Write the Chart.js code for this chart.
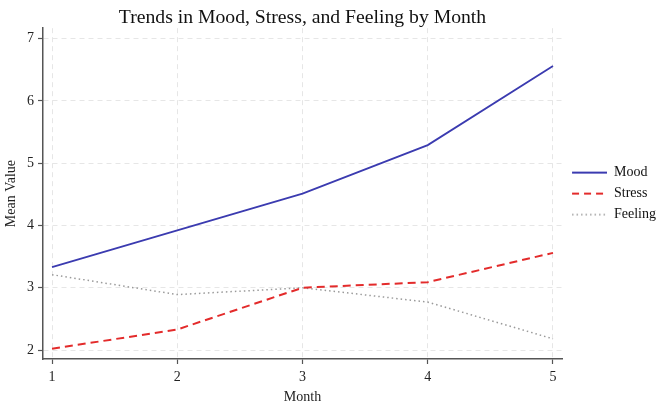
<!DOCTYPE html>
<html>
<head>
<meta charset="utf-8">
<script src="https://cdn.jsdelivr.net/npm/chart.js@4/dist/chart.umd.min.js"></script>
<style>
  html, body { margin: 0; padding: 0; background: #fff; }
  #wrap { width: 666px; height: 415px; }
</style>
</head>
<body>
<div id="wrap"><canvas id="chart" width="666" height="415"></canvas></div>
<script>
// Data
const months = [1, 2, 3, 4, 5];
const mood = [3.33, 3.92, 4.51, 5.29, 6.56];
const stress = [2.02, 2.33, 3.0, 3.09, 3.56];
const feeling = [3.21, 2.89, 3.0, 2.77, 2.18];
const xTicks = [1, 2, 3, 4, 5];
const yTicks = [2, 3, 4, 5, 6, 7];

const serif = "'Liberation Serif', 'DejaVu Serif', serif";
const gridColor = '#e6e6e6';
const axisColor = '#555';
const keyWidth = 38;

// Small line sample used as the legend symbol (keeps the dash pattern)
function lineKey(color, width, dash) {
  const c = document.createElement('canvas');
  c.width = keyWidth;
  c.height = 6;
  const g = c.getContext('2d');
  g.strokeStyle = color;
  g.lineWidth = width;
  g.setLineDash(dash);
  g.beginPath();
  g.moveTo(3, 3);
  g.lineTo(keyWidth, 3);
  g.stroke();
  return c;
}

const toPoints = vals => months.map((m, i) => ({ x: m, y: vals[i] }));

new Chart(document.getElementById('chart'), {
  type: 'line',
  data: {
    datasets: [
      {
        label: 'Mood',
        data: toPoints(mood),
        borderColor: '#3b3bb0',
        borderWidth: 1.8,
        pointRadius: 0,
        pointStyle: lineKey('#3b3bb0', 1.8, [])
      },
      {
        label: 'Stress',
        data: toPoints(stress),
        borderColor: '#e32b2b',
        borderWidth: 2,
        borderDash: [8, 5],
        pointRadius: 0,
        pointStyle: lineKey('#e32b2b', 2, [7, 5])
      },
      {
        label: 'Feeling',
        data: toPoints(feeling),
        borderColor: '#9a9a9a',
        borderWidth: 1.5,
        borderDash: [1.5, 3],
        pointRadius: 0,
        pointStyle: lineKey('#9a9a9a', 1.3, [1.5, 3])
      }
    ]
  },
  options: {
    responsive: false,
    animation: false,
    layout: { padding: { left: 0, right: 0, top: 0, bottom: 0 } },
    plugins: {
      title: {
        display: true,
        text: 'Trends in Mood, Stress, and Feeling by Month',
        fullSize: false,
        color: '#111',
        font: { family: serif, size: 19.7, weight: 'normal', lineHeight: 1.1 },
        padding: { top: 6.5, bottom: 0 }
      },
      legend: {
        position: 'right',
        align: 'center',
        fullSize: false,
        labels: {
          usePointStyle: true,
          pointStyleWidth: keyWidth,
          padding: 7,
          color: '#111',
          font: { family: serif, size: 14 }
        }
      },
      tooltip: { enabled: false }
    },
    scales: {
      x: {
        type: 'linear',
        min: 0.928,
        max: 5.072,
        afterBuildTicks: scale => { scale.ticks = xTicks.map(v => ({ value: v })); },
        afterFit: scale => { scale.height = 56; },
        grid: { color: gridColor, tickColor: axisColor, tickLength: 5, tickWidth: 1.2 },
        border: { color: axisColor, width: 1.5, dash: [5, 4] },
        ticks: { color: '#222', padding: 5, maxRotation: 0, font: { family: serif, size: 14 } },
        title: {
          display: true,
          text: 'Month',
          color: '#222',
          font: { family: serif, size: 14 },
          padding: { top: 0, bottom: 9 }
        }
      },
      y: {
        type: 'linear',
        min: 1.856,
        max: 7.168,
        afterBuildTicks: scale => { scale.ticks = yTicks.map(v => ({ value: v })); },
        afterFit: scale => { scale.width = 43; },
        grid: { color: gridColor, tickColor: axisColor, tickLength: 5, tickWidth: 1.2 },
        border: { color: axisColor, width: 1.5, dash: [5, 4] },
        ticks: { color: '#222', padding: 4, font: { family: serif, size: 14 } },
        title: {
          display: true,
          text: 'Mean Value',
          color: '#222',
          font: { family: serif, size: 14 },
          padding: { top: 3, bottom: 0 }
        }
      }
    }
  }
});
</script>
</body>
</html>
